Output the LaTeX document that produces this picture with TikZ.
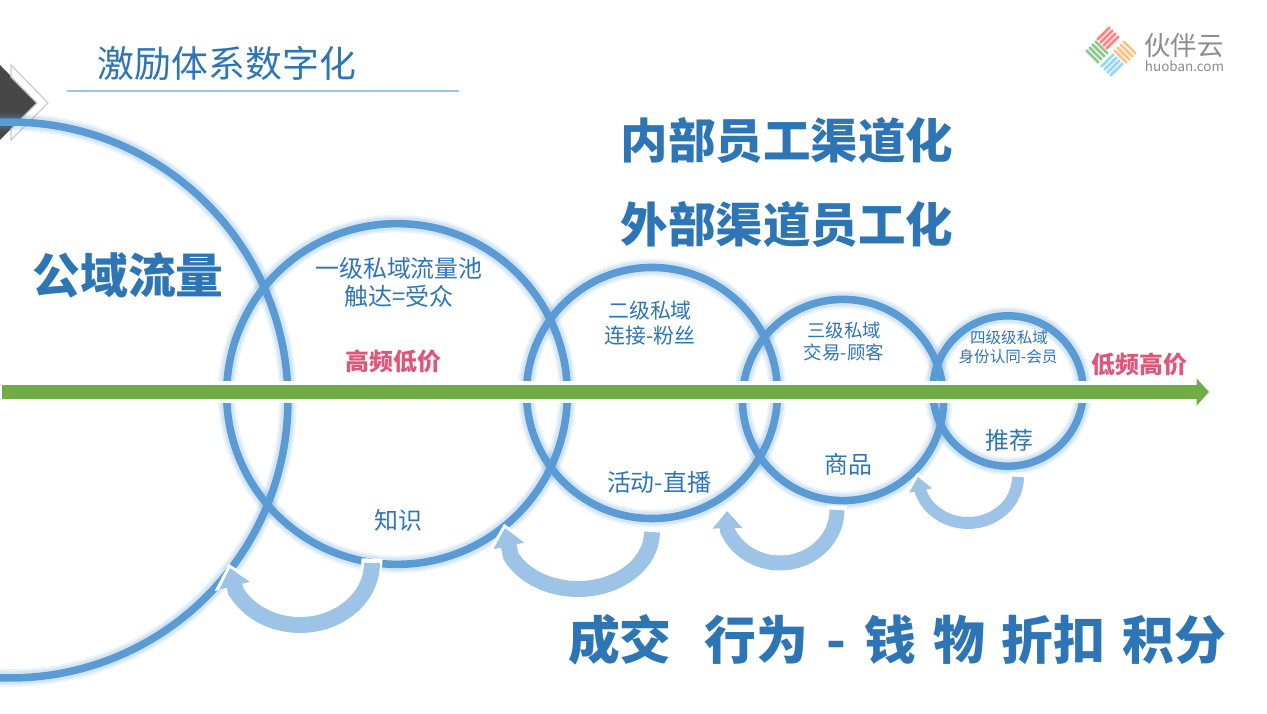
\documentclass[tikz,border=0pt]{standalone}
\usepackage{fontspec}
\setmainfont{Noto Sans CJK SC}
\usepackage{xcolor}
\usetikzlibrary{positioning,calc,arrows.meta}

\definecolor{ringblue}{HTML}{5B9BD5}
\definecolor{textblue}{HTML}{2E75B6}
\definecolor{paleblue}{HTML}{9DC3E6}
\definecolor{flowgreen}{HTML}{70AD47}
\definecolor{pricepink}{HTML}{E0567A}

\newcommand{\pxfont}[1]{\pgfmathparse{#1*0.567}\fontsize{\pgfmathresult pt}{\pgfmathresult pt}\selectfont}

\tikzset{
  ring/.style={circle, draw=ringblue, line width=4.3pt, inner sep=0pt, outer sep=0pt,
    preaction={draw=ringblue, opacity=0.12, line width=10pt},
    preaction={draw=ringblue, opacity=0.16, line width=7.5pt}},
  bentcut/.style={draw=white, -{Triangle[length=0pt 1.1, width=0pt 1.9]}, shorten >=-2.5pt, shorten <=-2.5pt},
  bentarrow/.style={draw=paleblue, -{Triangle[length=0pt 1.15, width=0pt 1.9]}},
  label/.style={text=textblue, align=center, inner sep=0pt},
  price/.style={text=pricepink, font=\bfseries\pxfont{24}, inner sep=0pt},
  bigtext/.style={text=textblue, font=\bfseries\pxfont{47.7}, inner sep=0pt}
}

\begin{document}
\begin{tikzpicture}[x=0.02cm, y=0.02cm]
  \useasboundingbox (0,0) rectangle (1267,713);

  % Corner mark
  \fill[black!72] (0,648) -- (37,610) -- (0,573) -- cycle;
  \draw[black!20, line width=0.7pt] (11,648) -- (48,610) -- (11,573) -- (11,584) -- (37,610) -- (11,636) -- cycle;

  % Title
  \node[label, font=\pxfont{37}] (title) at (227,650) {激励体系数字化};
  \coordinate (ruleL) at (67,622);
  \coordinate (ruleR) at (459,622);
  \draw[paleblue, line width=0.6pt] (ruleL) -- (ruleR);

  % Logo
  \foreach \s in {-6.5,-2.2,2.2,6.5} {
    \draw[red!50!white, line width=1.5pt, line cap=round] ($(1108,675)+(\s*0.7,\s*-0.7)+(-6,-6)$) -- ++(12,12);
    \draw[orange!50!white, line width=1.5pt, line cap=round] ($(1125,661)+(\s*0.7,\s*0.7)+(-6,6)$) -- ++(12,-12);
    \draw[blue!35!cyan!45!white, line width=1.5pt, line cap=round] ($(1112,648)+(\s*0.7,\s*-0.7)+(-6,-6)$) -- ++(12,12);
    \draw[green!50!black!45!white, line width=1.5pt, line cap=round] ($(1097,661)+(\s*0.7,\s*0.7)+(-6,6)$) -- ++(12,-12);
  }
  \node[text=black!45, inner sep=0pt, font=\pxfont{26.5}] (brand) at (1184,667) {伙伴云};
  \node[text=black!45, inner sep=0pt, font=\pxfont{13.5}] (site) at (1184.5,647) {huoban.com};

  % Circles
  \node[ring, minimum size=558*0.567pt] (pool0) at (10,313) {};
  \node[ring, minimum size=342*0.567pt] (pool1) at (397,319) {};
  \node[ring, minimum size=252*0.567pt] (pool2) at (652,320) {};
  \node[ring, minimum size=202*0.567pt] (pool3) at (843,313) {};
  \node[ring, minimum size=151*0.567pt] (pool4) at (1008,322) {};

  % Flow axis
  \coordinate (flowL) at (2,321);
  \coordinate (flowR) at (1209,321);
  \draw[white, line width=13pt] (flowL) -- (1095,321);
  \draw[flowgreen, line width=8.5pt, -{Triangle[width=15pt, length=7pt]}] (flowL) -- (flowR);

  % Bent arrows
  \coordinate (tail1) at (372,150);
  \coordinate (tail2) at (652,181);
  \coordinate (tail3) at (837,203);
  \coordinate (tail4) at (1018,236);
  \coordinate (tip1) at (230,145);
  \coordinate (tip2) at (505,185);
  \coordinate (tip3) at (727,202);
  \coordinate (tip4) at (918,236);
  \foreach \tl/\tp/\rx/\ry/\ea/\bw in {tail1/tip1/72/62/207/16, tail2/tip2/74/57/205/16, tail3/tip3/57/53/203/15, tail4/tip4/50/46/200/12} {
    \draw[bentcut, line width=(\bw+5)*0.567pt] (\tl) arc[start angle=360, end angle=\ea, x radius=\rx, y radius=\ry] -- (\tp);
    \draw[bentarrow, line width=\bw*0.567pt] (\tl) arc[start angle=360, end angle=\ea, x radius=\rx, y radius=\ry] -- (\tp);
  }

  % Texts
  \node[bigtext] (inner) at (787,573) {内部员工渠道化};
  \node[bigtext] (outer) at (787,489) {外部渠道员工化};
  \node[bigtext, font=\bfseries\pxfont{48}] (public) at (128,438) {公域流量};
  \node[bigtext, font=\bfseries\pxfont{52}] (deal) at (897,73) {成交\hspace{18.7pt}行为\hspace{10.4pt}-\hspace{10.4pt}钱\hspace{9.6pt}物\hspace{9.6pt}折扣\hspace{9.6pt}积分};

  \node[label, font=\pxfont{24}] (t1a) at (399,445) {一级私域流量池};
  \node[label, font=\pxfont{24}] (t1b) at (399,417) {触达=受众};
  \node[price] (lowprice) at (393.5,352) {高频低价};
  \node[label, font=\pxfont{24}] (t1c) at (398,193) {知识};

  \node[label, font=\pxfont{21}] (t2a) at (650,402) {二级私域};
  \node[label, font=\pxfont{21}] (t2b) at (650,377) {连接-粉丝};
  \node[label, font=\pxfont{24}] (t2c) at (659,231) {活动-直播};

  \node[label, font=\pxfont{18.5}] (t3a) at (844,382) {三级私域};
  \node[label, font=\pxfont{18.5}] (t3b) at (844,361) {交易-顾客};
  \node[label, font=\pxfont{24}] (t3c) at (848,249) {商品};

  \node[label, font=\pxfont{15.6}] (t4a) at (1009,375) {四级级私域};
  \node[label, font=\pxfont{15.6}] (t4b) at (1008,356) {身份认同-会员};
  \node[label, font=\pxfont{24}] (t4c) at (1009,273) {推荐};
  \node[price] (highprice) at (1139.5,349) {低频高价};
\end{tikzpicture}
\end{document}
